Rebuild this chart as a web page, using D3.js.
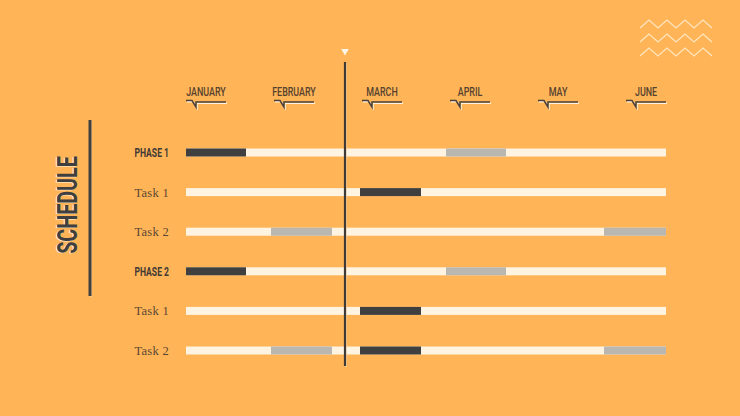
<!DOCTYPE html>
<html>
<head>
<meta charset="utf-8">
<script src="https://cdn.jsdelivr.net/npm/d3@7"></script>
<style>
  html, body { margin: 0; padding: 0; background: #ffb557; }
  svg { display: block; }
  .month { font-family: Roboto, 'Liberation Sans', sans-serif; font-size: 13.5px; font-weight: 500; fill: #55422f; }
  .phase { font-family: Roboto, 'Liberation Sans', sans-serif; font-size: 13px; font-weight: 700; fill: #3f3a36; }
  .task { font-family: 'Liberation Serif', 'DejaVu Serif', serif; font-size: 12.5px; fill: #5a4634; letter-spacing: 0.3px; }
  .title { font-family: Roboto, 'Liberation Sans', sans-serif; font-size: 27px; font-weight: 700; }
</style>
</head>
<body>
<svg id="chart" width="740" height="416"></svg>
<script>
const months = ['JANUARY', 'FEBRUARY', 'MARCH', 'APRIL', 'MAY', 'JUNE']
const rows = ['PHASE 1', 'Task 1', 'Task 2', 'PHASE 2', 'Task 1', 'Task 2']
const rowKind = ['phase', 'task', 'task', 'phase', 'task', 'task']
// segments per row, in weeks: [row, start, end]
const doneSegments = [
  [0, 0, 3], [1, 8.7, 11.75], [3, 0, 3], [4, 8.7, 11.75], [5, 8.7, 11.75]
]
const plannedSegments = [
  [0, 13, 16], [2, 4.25, 7.3], [2, 20.9, 24], [3, 13, 16], [5, 4.25, 7.3], [5, 20.9, 24]
]
const totalWeeks = 24
const today = 7.95

const svg = d3.select('#chart')
svg.append('rect').attr('width', 740).attr('height', 416).attr('fill', '#ffb557')

const x = d3.scaleLinear().domain([0, totalWeeks]).range([186, 666])
const xm = d3.scaleBand().domain(months).range([186, 666]).paddingInner(6 / 11).paddingOuter(0)
const y = d3.scalePoint().domain(d3.range(rows.length)).range([152.5, 350.5])
const barH = 8

// month labels with little speech-bubble marks
const m = svg.append('g').selectAll('g').data(months).join('g')
  .attr('transform', d => `translate(${xm(d)},0)`)
m.append('text').attr('class', 'month')
  .attr('transform', `translate(${xm.bandwidth() / 2},96) scale(0.66,1)`)
  .attr('text-anchor', 'middle').text(d => d)
const tail = w => `M0,100.5 L6,100.5 L10,107 L10,102 L${w},102`
m.append('path').attr('d', tail(xm.bandwidth()))
  .attr('transform', 'translate(1,1.2)')
  .attr('fill', 'none').attr('stroke', '#fff3e0').attr('stroke-width', 1.4)
m.append('path').attr('d', tail(xm.bandwidth()))
  .attr('fill', 'none').attr('stroke', '#4a3f36').attr('stroke-width', 1.5)

// row labels
svg.append('g').selectAll('text').data(rows).join('text')
  .attr('class', (d, i) => rowKind[i])
  .attr('transform', (d, i) => rowKind[i] === 'phase'
    ? `translate(169,${y(i)}) scale(0.66,1)`
    : `translate(169,${y(i)})`)
  .attr('dy', '0.36em')
  .attr('text-anchor', 'end')
  .text(d => d)

// track bars
svg.append('g').selectAll('rect').data(rows).join('rect')
  .attr('x', x(0)).attr('width', x(totalWeeks) - x(0))
  .attr('y', (d, i) => y(i) - barH / 2).attr('height', barH)
  .attr('fill', '#fff3e2')

svg.append('g').selectAll('rect').data(plannedSegments).join('rect')
  .attr('x', d => x(d[1])).attr('width', d => x(d[2]) - x(d[1]))
  .attr('y', d => y(d[0]) - barH / 2).attr('height', barH)
  .attr('fill', '#bab7b1')

svg.append('g').selectAll('rect').data(doneSegments).join('rect')
  .attr('x', d => x(d[1])).attr('width', d => x(d[2]) - x(d[1]))
  .attr('y', d => y(d[0]) - barH / 2).attr('height', barH)
  .attr('fill', '#3f3f3f')

// today line
const tx = x(today)
svg.append('line').attr('x1', tx + 1).attr('x2', tx + 1).attr('y1', 63).attr('y2', 367)
  .attr('stroke', '#f7e4c8').attr('stroke-width', 1)
svg.append('line').attr('x1', tx).attr('x2', tx).attr('y1', 62).attr('y2', 366)
  .attr('stroke', '#403a36').attr('stroke-width', 2.2)
svg.append('path').attr('d', `M${tx - 3.8},49 L${tx + 3.8},49 L${tx},55.5 Z`).attr('fill', '#fff6ea')

// title
svg.append('text').attr('class', 'title')
  .attr('transform', 'translate(76.3,205.5) rotate(-90) scale(0.73,1)')
  .attr('text-anchor', 'middle')
  .attr('fill', '#fff3e0')
  .text('SCHEDULE')
svg.append('text').attr('class', 'title')
  .attr('transform', 'translate(77,205) rotate(-90) scale(0.73,1)')
  .attr('text-anchor', 'middle')
  .attr('fill', '#3f3f3f')
  .text('SCHEDULE')
svg.append('line').attr('x1', 91).attr('x2', 91).attr('y1', 121).attr('y2', 297)
  .attr('stroke', '#f7e4c8').attr('stroke-width', 1)
svg.append('line').attr('x1', 90).attr('x2', 90).attr('y1', 120).attr('y2', 296)
  .attr('stroke', '#3f3f3f').attr('stroke-width', 3)

// zigzag decoration
const zig = [0, 1, 2]
const zline = d3.line()
svg.append('g').selectAll('path').data(zig).join('path')
  .attr('d', k => {
    const pts = []
    for (let i = 0; i <= 8; i++) pts.push([640 + i * 9, 20 + k * 14 + (i % 2 ? 0 : 8)])
    return zline(pts)
  })
  .attr('fill', 'none').attr('stroke', '#fff0d8').attr('stroke-width', 1.3).attr('opacity', 0.8)
</script>
</body>
</html>
